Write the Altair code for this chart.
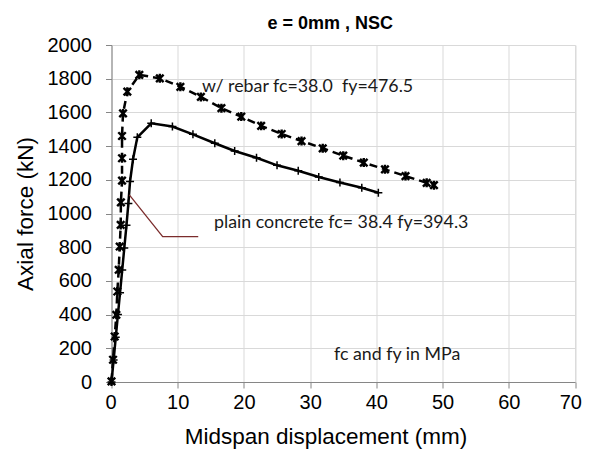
import altair as alt
import pandas as pd

# ---- data ----
rebar_x = [0, 0.23, 0.48, 0.73, 0.88, 1.09, 1.24, 1.39, 1.42, 1.59, 1.59, 1.59, 1.74, 2.39,
           4.2, 7.3, 10.4, 13.5, 16.6, 19.6, 22.6, 25.7, 28.7, 31.9, 35.0, 38.1, 41.3, 44.4, 47.6, 48.7]
rebar_y = [4, 132, 270, 399, 537, 666, 804, 932, 1066, 1195, 1328, 1460, 1594, 1723,
           1823, 1802, 1752, 1692, 1625, 1575, 1520, 1472, 1430, 1387, 1343, 1302, 1262, 1222, 1182, 1168]

plain_x = [0, 0.32, 0.64, 0.97, 1.29, 1.62, 1.93, 2.26, 2.55, 2.8, 3.25, 3.9,
           6.0, 9.2, 12.3, 15.6, 18.6, 21.9, 25.0, 28.2, 31.3, 34.5, 37.8, 40.3]
plain_y = [0, 130, 265, 400, 530, 665, 795, 930, 1060, 1190, 1322, 1452,
           1535, 1516, 1470, 1417, 1371, 1331, 1286, 1254, 1217, 1184, 1153, 1123]

leader_x = [2.69, 7.73, 13.1]
leader_y = [1110, 863, 863]

x_ticks = [0, 10, 20, 30, 40, 50, 60, 70]
y_ticks = [0, 200, 400, 600, 800, 1000, 1200, 1400, 1600, 1800, 2000]

notes = ["w/ rebar fc=38.0 \u00a0fy=476.5", "plain concrete fc= 38.4 fy=394.3", "fc and fy in MPa"]
notes_x = [13.67, 15.48, 33.6]
notes_y = [1750, 944, 162]

rebar = pd.DataFrame({"x": rebar_x, "y": rebar_y, "i": range(len(rebar_x))})
plain = pd.DataFrame({"x": plain_x, "y": plain_y, "i": range(len(plain_x))})
leader = pd.DataFrame({"x": leader_x, "y": leader_y, "i": range(len(leader_x))})
notes_df = pd.DataFrame({"x": notes_x, "y": notes_y, "t": notes})

W, H = 463.5, 337
FONT = "Liberation Sans, Arial, sans-serif"

xs = alt.X("x:Q", scale=alt.Scale(domain=[0, 70], nice=False, zero=False),
           axis=alt.Axis(values=x_ticks, title="Midspan displacement (mm)", format="d",
                         grid=True, gridColor="#d9d9d9", gridWidth=1,
                         domainColor="#868686", tickColor="#868686", tickSize=6,
                         labelFont=FONT, labelFontSize=20, labelColor="#000",
                         labelPadding=4, labelFlush=True, labelFlushOffset=6.5, labelOverlap=False,
                         titleFont=FONT, titleFontSize=22.5, titleFontWeight="normal",
                         titleColor="#000", titleX=214, titleY=61, titleBaseline="alphabetic",
                         titleAlign="center"))
ys = alt.Y("y:Q", scale=alt.Scale(domain=[0, 2000], nice=False),
           axis=alt.Axis(values=y_ticks, title="Axial force (kN)", format="d",
                         grid=True, gridColor="#d9d9d9", gridWidth=1,
                         domainColor="#868686", tickColor="#868686", tickSize=6,
                         labelFont=FONT, labelFontSize=20, labelColor="#000",
                         labelPadding=14, labelFlush=False, labelOverlap=False,
                         titleFont=FONT, titleFontSize=22.5, titleFontWeight="normal",
                         titleColor="#000", titleX=-79.5, titleY=H / 2, titleBaseline="alphabetic",
                         titleAlign="center", titleAngle=-90))

star = "M-1,-1L1,1M-1,1L1,-1M0,-1.2L0,1.2"
plus = "M-1,0L1,0M0,-1L0,1"

plain_line = alt.Chart(plain).mark_line(color="#000", strokeWidth=2.5).encode(x=xs, y=ys, order="i:Q")
plain_pts = alt.Chart(plain).mark_point(shape=plus, size=64, filled=False, color="#000",
                                        strokeWidth=1.5, opacity=1).encode(x=xs, y=ys)
rebar_line = alt.Chart(rebar).mark_line(color="#000", strokeWidth=2.5, strokeDash=[8, 5]).encode(
    x=xs, y=ys, order="i:Q")
rebar_pts = alt.Chart(rebar).mark_point(shape=star, size=56, filled=False, color="#000",
                                        strokeWidth=2.4, opacity=1).encode(x=xs, y=ys)
leader_line = alt.Chart(leader).mark_line(color="#7b2c2c", strokeWidth=1.3).encode(
    x=xs, y=ys, order="i:Q")
texts = alt.Chart(notes_df).mark_text(align="left", baseline="middle", font="Lato",
                                      fontSize=17.8, color="#1a1a1a").encode(
    x=xs, y=ys, text="t:N")

chart = alt.layer(plain_line, rebar_line, leader_line, plain_pts, rebar_pts, texts).properties(
    width=W, height=H,
    title=alt.TitleParams("e = 0mm , NSC", font=FONT, fontSize=18, fontWeight="bold",
                          color="#000", anchor="middle", frame="group", dx=-13, offset=2),
    autosize=alt.AutoSizeParams(type="none"),
    padding={"left": 103.5, "top": 37, "right": 7, "bottom": 69},
).configure_view(stroke=None).configure(background="white")

chart.save("out.html", embed_options={"renderer": "svg", "actions": False})
